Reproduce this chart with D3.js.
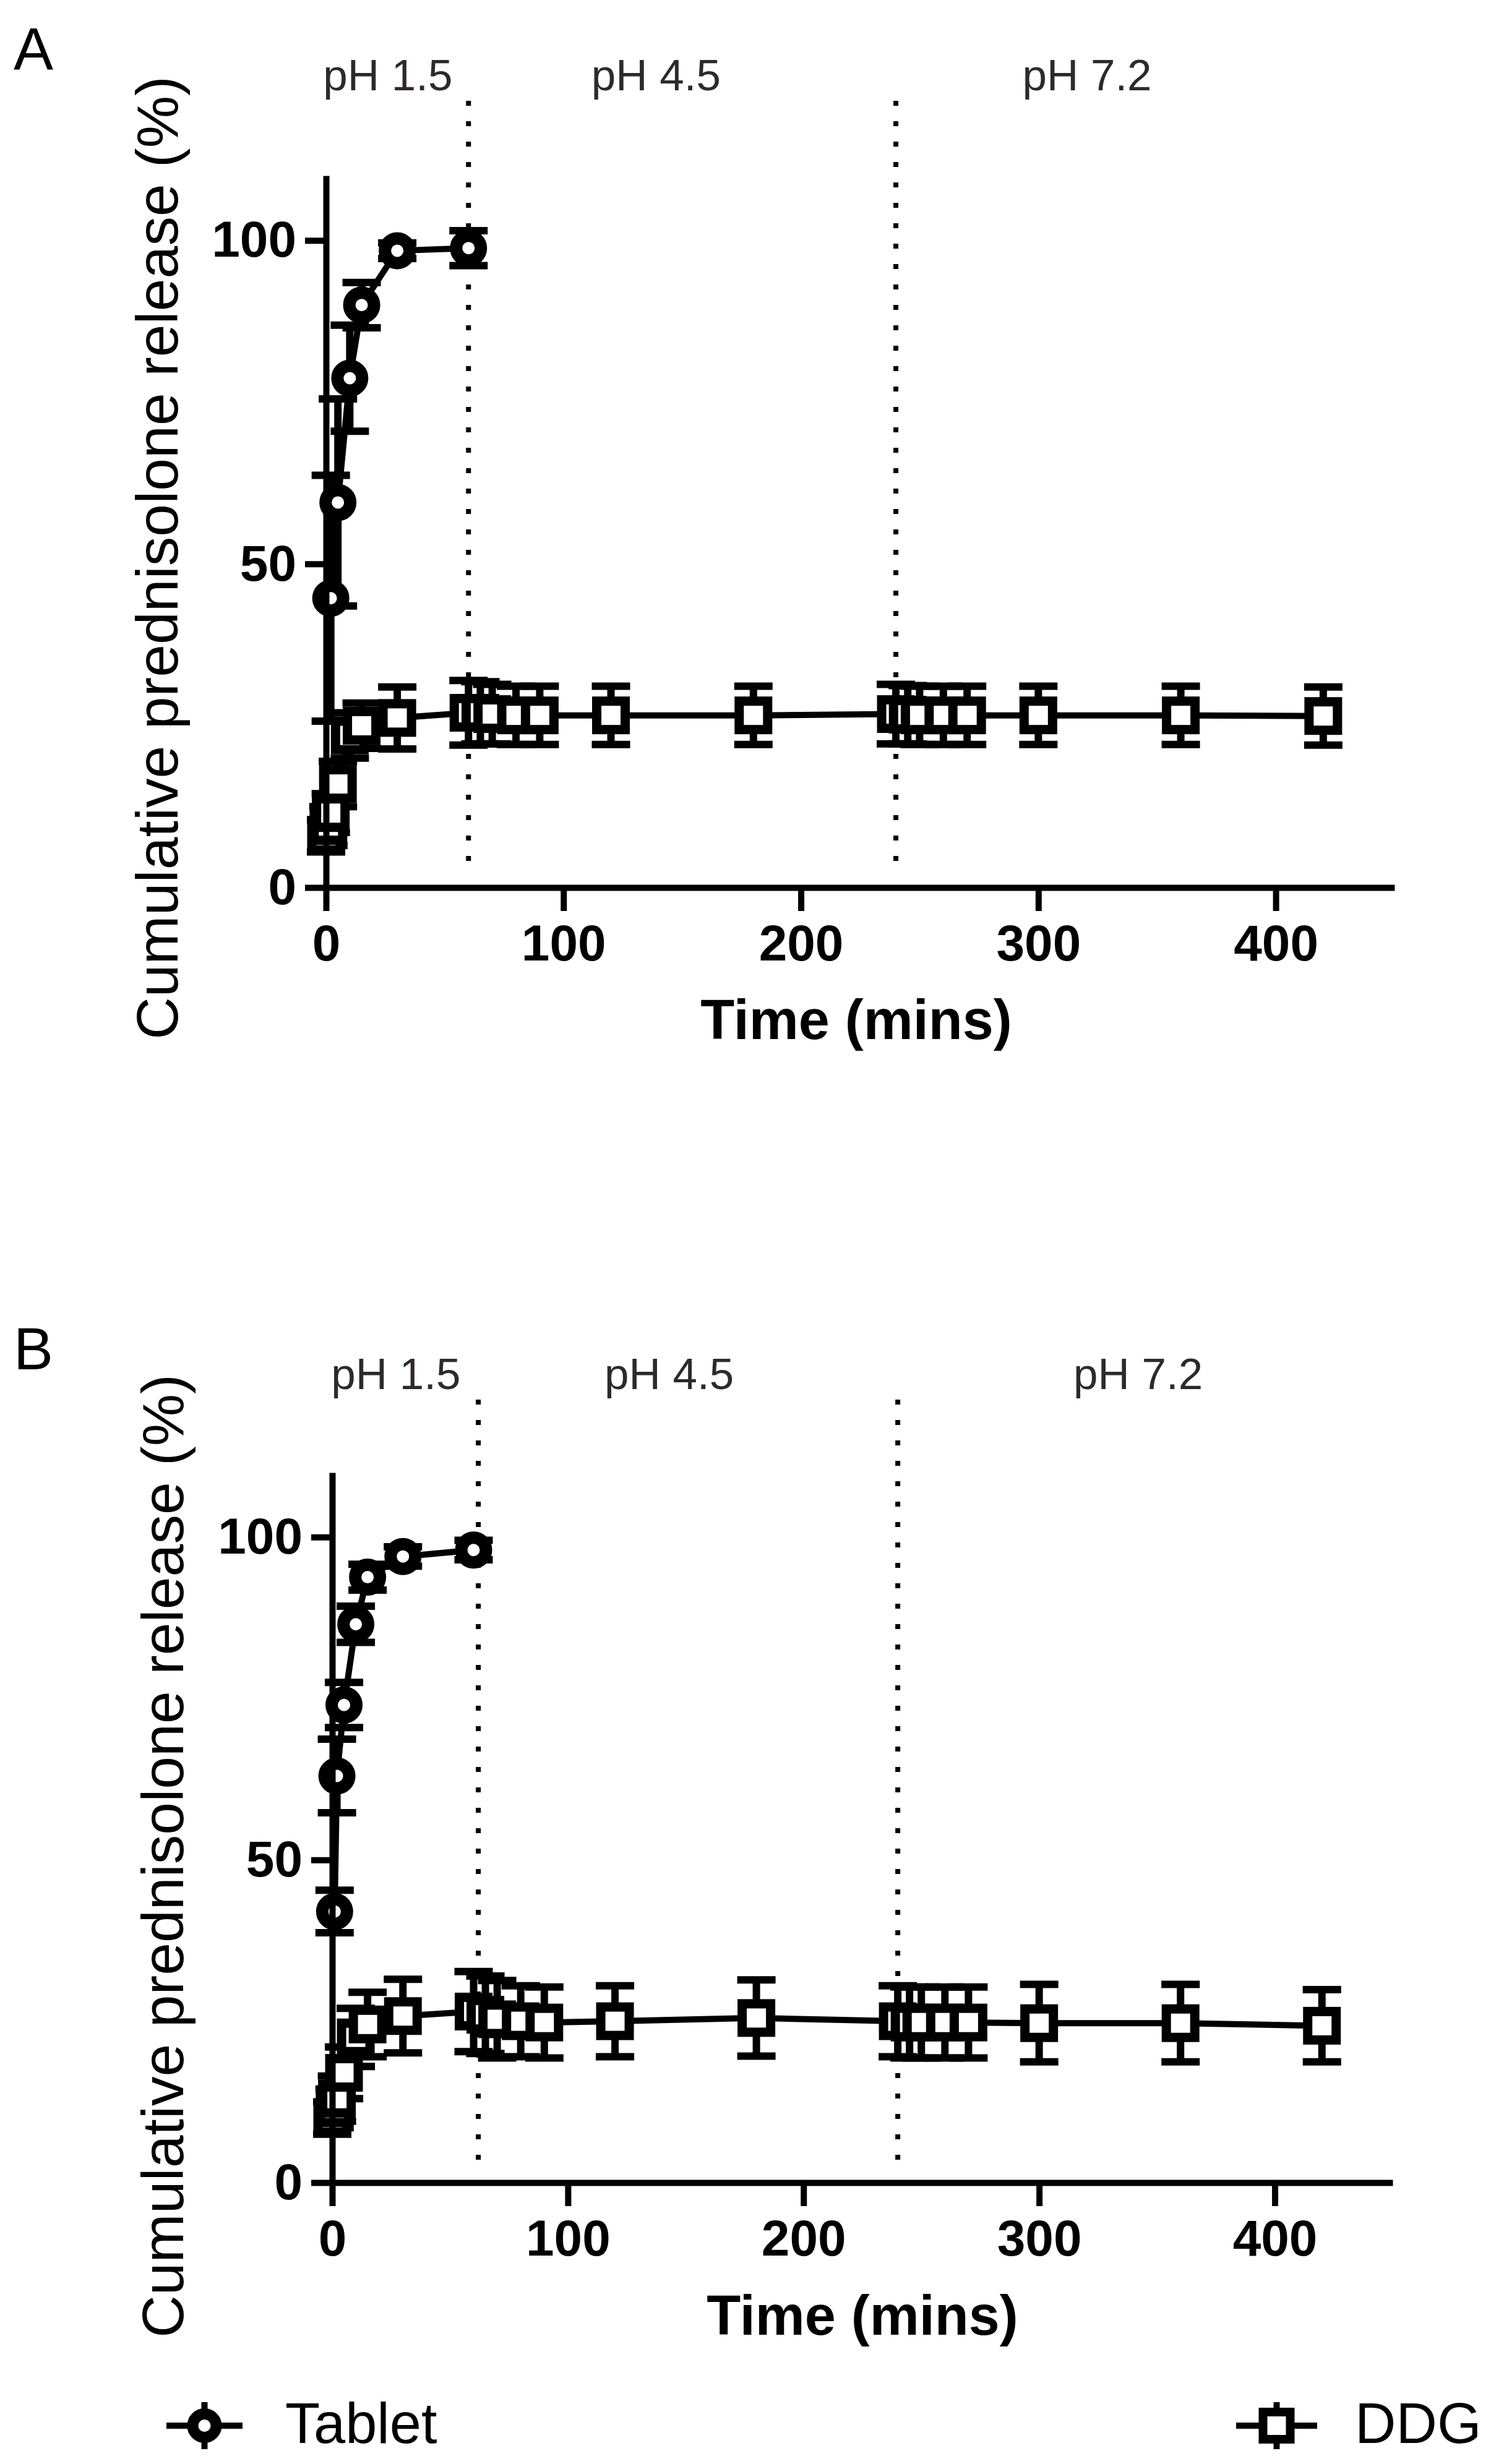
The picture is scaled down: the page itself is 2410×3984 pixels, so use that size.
<!DOCTYPE html>
<html>
<head>
<meta charset="utf-8">
<script src="https://cdn.jsdelivr.net/npm/d3@7"></script>
<style>
    body { margin: 0; background: #fff; }
    svg text { font-family: Arial, "Liberation Sans", sans-serif; }
</style>
</head>
<body>
<div id="chart"></div>
<script>
// ---- data ----
const xTicks = [0, 100, 200, 300, 400];
const yTicks = [0, 50, 100];
const phaseNames = ['pH 1.5', 'pH 4.5', 'pH 7.2'];

// Panel A
const tabletTimeA = [2, 5, 10, 15, 30, 60];
const tabletMeanA = [44.7, 59.5, 78.7, 90.0, 98.4, 98.8];
const tabletSdA   = [19.0, 16.0, 8.2, 3.5, 1.2, 2.7];

const ddgTimeA = [0, 1, 2, 5, 10, 15, 30, 60, 65, 70, 80, 90, 120, 180, 240, 245, 250, 260, 270, 300, 360, 420];
const ddgMeanA = [8.0, 9.5, 11.5, 16.0, 23.5, 25.0, 26.2, 27.0, 27.0, 26.8, 26.6, 26.6, 26.6, 26.6, 26.8, 26.7, 26.6, 26.6, 26.6, 26.6, 26.6, 26.5];
const ddgSdA   = [2.5, 3.0, 3.0, 3.5, 3.5, 3.5, 4.8, 5.0, 4.8, 4.6, 4.5, 4.5, 4.5, 4.5, 4.6, 4.5, 4.5, 4.5, 4.5, 4.5, 4.5, 4.5];
const phaseLinesA = [60, 240];

// Panel B
const tabletTimeB = [1, 2, 5, 10, 15, 30, 60];
const tabletMeanB = [42.0, 63.0, 74.0, 86.5, 93.8, 97.0, 98.0];
const tabletSdB   = [3.3, 5.7, 3.5, 2.8, 2.0, 1.5, 1.5];

const ddgTimeB = [0, 1, 2, 5, 10, 15, 30, 60, 65, 70, 80, 90, 120, 180, 240, 245, 250, 260, 270, 300, 360, 420];
const ddgMeanB = [10.0, 11.5, 13.0, 17.0, 22.5, 24.5, 25.8, 26.5, 26.0, 25.3, 25.0, 24.8, 25.0, 25.5, 25.0, 24.8, 24.8, 24.8, 24.8, 24.7, 24.7, 24.3];
const ddgSdB   = [2.5, 3.0, 3.5, 4.0, 4.5, 5.0, 5.7, 6.2, 6.0, 6.0, 5.5, 5.5, 5.5, 5.9, 5.5, 5.5, 5.5, 5.5, 5.5, 6.0, 6.0, 5.6];
const phaseLinesB = [62, 240];

// ---- layout ----
const W = 2410, H = 3984;
const FONT = 'Arial, "Liberation Sans", sans-serif';

const panelA = {
    letter: 'A', letterX: 22, letterY: 112,
    left: 527, right: 2254, top: 284, bottom: 1435,
    phaseTop: 163, phaseBottom: 1414,
    phLabelAt: [26, 139, 320.5], phBaseline: 146,
    yLabelX: 287, yLabelMid: 902,
    xLabelX: 1384, xLabelY: 1680
};
const panelB = {
    letter: 'B', letterX: 22, letterY: 2214,
    left: 537, right: 2251, top: 2381, bottom: 3529,
    phaseTop: 2263, phaseBottom: 3508,
    phLabelAt: [27, 143, 342], phBaseline: 2246,
    yLabelX: 296, yLabelMid: 3001,
    xLabelX: 1394, xLabelY: 3775
};

const svg = d3.select('#chart')
    .append('svg')
    .attr('width', W)
    .attr('height', H)
    .attr('viewBox', `0 0 ${W} ${H}`);

svg.append('rect').attr('width', W).attr('height', H).attr('fill', '#fff');

const CAP = 31;        // half width of error bar caps
const LINE_W = 10;
const SQ = 46;         // square side (stroke centred)
const CR = 20;         // circle radius (stroke centred)

function zip(t, m, s) {
    return t.map((d, i) => ({ t: d, m: m[i], sd: s[i] }));
}

function drawErrorBars(g, data, x, y) {
    const eb = g.append('g')
        .attr('stroke', '#000')
        .attr('stroke-width', 12)
        .attr('fill', 'none');
    data.forEach(d => {
        const cx = x(d.t);
        const y1 = y(d.m + d.sd), y2 = y(d.m - d.sd);
        eb.append('line').attr('x1', cx).attr('x2', cx).attr('y1', y1).attr('y2', y2);
        eb.append('line').attr('x1', cx - CAP).attr('x2', cx + CAP).attr('y1', y1).attr('y2', y1);
        eb.append('line').attr('x1', cx - CAP).attr('x2', cx + CAP).attr('y1', y2).attr('y2', y2);
    });
}

function drawSeries(g, data, x, y, shape) {
    drawErrorBars(g, data, x, y);

    const line = d3.line()
        .x(d => x(d.t))
        .y(d => y(d.m));

    g.append('path')
        .datum(data)
        .attr('d', line)
        .attr('fill', 'none')
        .attr('stroke', '#000')
        .attr('stroke-width', LINE_W)
        .attr('stroke-linejoin', 'round');

    if (shape === 'circle') {
        g.selectAll('.tab-marker')
            .data(data)
            .enter()
            .append('circle')
            .attr('class', 'tab-marker')
            .attr('cx', d => x(d.t))
            .attr('cy', d => y(d.m))
            .attr('r', CR)
            .attr('fill', '#fff')
            .attr('stroke', '#000')
            .attr('stroke-width', 20);
    } else {
        g.selectAll('.ddg-marker')
            .data(data)
            .enter()
            .append('rect')
            .attr('class', 'ddg-marker')
            .attr('x', d => x(d.t) - SQ / 2)
            .attr('y', d => y(d.m) - SQ / 2)
            .attr('width', SQ)
            .attr('height', SQ)
            .attr('fill', '#fff')
            .attr('stroke', '#000')
            .attr('stroke-width', 15);
    }
}

function drawPanel(cfg, tablet, ddg, phaseLines) {
    const g = svg.append('g');

    const x = d3.scaleLinear().domain([0, 450]).range([cfg.left, cfg.right]);
    const y = d3.scaleLinear().domain([0, 110]).range([cfg.bottom, cfg.top]);

    // Panel letter
    g.append('text')
        .attr('x', cfg.letterX)
        .attr('y', cfg.letterY)
        .style('font-size', '96px')
        .style('fill', '#000')
        .text(cfg.letter);

    // pH phase labels
    g.selectAll('.ph-label')
        .data(phaseNames)
        .enter()
        .append('text')
        .attr('class', 'ph-label')
        .attr('x', (d, i) => x(cfg.phLabelAt[i]))
        .attr('y', cfg.phBaseline)
        .attr('text-anchor', 'middle')
        .style('font-size', '71px')
        .style('fill', '#2e2a2a')
        .text(d => d);

    // Dotted phase boundaries
    g.selectAll('.phase-line')
        .data(phaseLines)
        .enter()
        .append('line')
        .attr('class', 'phase-line')
        .attr('x1', d => x(d))
        .attr('x2', d => x(d))
        .attr('y1', cfg.phaseTop)
        .attr('y2', cfg.phaseBottom)
        .attr('stroke', '#000')
        .attr('stroke-width', 8)
        .attr('stroke-dasharray', '8,25');

    // Data
    drawSeries(g, tablet, x, y, 'circle');
    drawSeries(g, ddg, x, y, 'square');

    // Axes
    const xAxis = d3.axisBottom(x)
        .tickValues(xTicks)
        .tickSize(38)
        .tickSizeOuter(0)
        .tickPadding(22);

    const yAxis = d3.axisLeft(y)
        .tickValues(yTicks)
        .tickSize(34)
        .tickSizeOuter(0)
        .tickPadding(14);

    const gx = g.append('g')
        .attr('transform', `translate(0,${cfg.bottom})`)
        .call(xAxis);
    const gy = g.append('g')
        .attr('transform', `translate(${cfg.left},0)`)
        .call(yAxis);

    [gx, gy].forEach(a => {
        a.select('.domain').attr('stroke-width', LINE_W);
        a.selectAll('.tick line').attr('stroke-width', LINE_W);
        a.selectAll('.tick text')
            .style('font-family', FONT)
            .style('font-size', '82px')
            .style('font-weight', 'bold')
            .style('fill', '#000');
    });

    // Axis titles
    g.append('text')
        .attr('transform', `translate(${cfg.yLabelX},${cfg.yLabelMid}) rotate(-90)`)
        .attr('text-anchor', 'middle')
        .style('font-size', '95px')
        .style('fill', '#000')
        .text('Cumulative prednisolone release (%)');

    g.append('text')
        .attr('x', cfg.xLabelX)
        .attr('y', cfg.xLabelY)
        .attr('text-anchor', 'middle')
        .style('font-size', '90px')
        .style('font-weight', 'bold')
        .style('fill', '#000')
        .text('Time (mins)');
}

drawPanel(panelA, zip(tabletTimeA, tabletMeanA, tabletSdA), zip(ddgTimeA, ddgMeanA, ddgSdA), phaseLinesA);
drawPanel(panelB, zip(tabletTimeB, tabletMeanB, tabletSdB), zip(ddgTimeB, ddgMeanB, ddgSdB), phaseLinesB);

// ---- legend ----
const legendItems = [
    { name: 'Tablet', shape: 'circle', x1: 269, x2: 392, textX: 461 },
    { name: 'DDG', shape: 'square', x1: 1998, x2: 2129, textX: 2190 }
];
const legendY = 3922;

const legend = svg.append('g');
legendItems.forEach(item => {
    const cx = (item.x1 + item.x2) / 2;
    legend.append('line')
        .attr('x1', item.x1).attr('x2', item.x2)
        .attr('y1', legendY).attr('y2', legendY)
        .attr('stroke', '#000').attr('stroke-width', LINE_W);
    legend.append('line')
        .attr('x1', cx).attr('x2', cx)
        .attr('y1', legendY - 38).attr('y2', legendY + 38)
        .attr('stroke', '#000').attr('stroke-width', 10);
    if (item.shape === 'circle') {
        legend.append('circle')
            .attr('cx', cx).attr('cy', legendY).attr('r', 19)
            .attr('fill', '#fff').attr('stroke', '#000').attr('stroke-width', 18);
    } else {
        legend.append('rect')
            .attr('x', cx - 22).attr('y', legendY - 22)
            .attr('width', 44).attr('height', 44)
            .attr('fill', '#fff').attr('stroke', '#000').attr('stroke-width', 14);
    }
    legend.append('text')
        .attr('x', item.textX)
        .attr('y', legendY + 28)
        .style('font-size', '92px')
        .style('fill', '#000')
        .text(item.name);
});
</script>
</body>
</html>
